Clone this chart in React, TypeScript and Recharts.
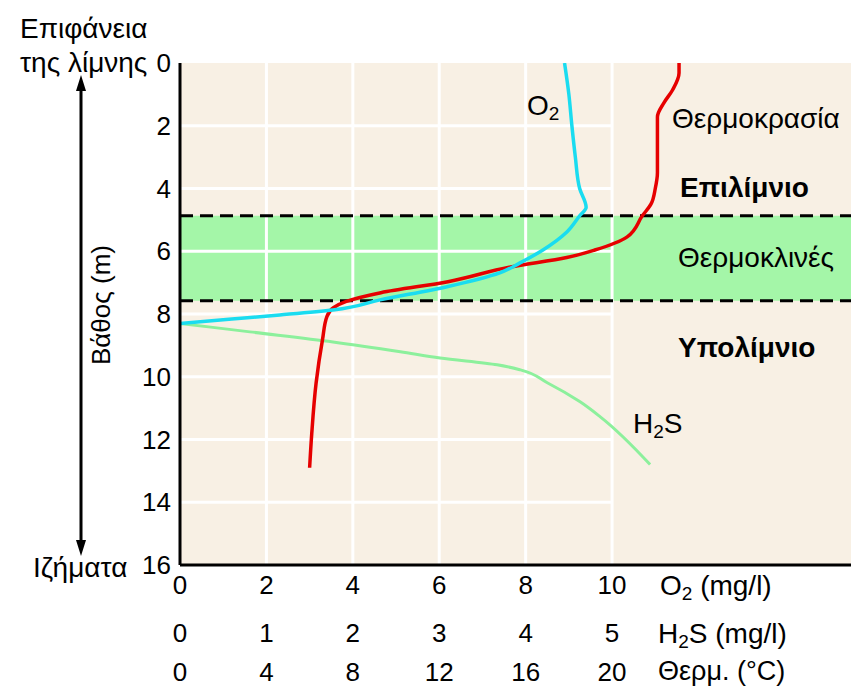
import { LineChart, Line, XAxis, YAxis, ReferenceArea, ReferenceLine } from 'recharts'

// axis ticks
const DEPTH_TICKS = [0, 2, 4, 6, 8, 10, 12, 14, 16]
const O2_TICKS = [0, 2, 4, 6, 8, 10]
const H2S_TICKS = [0, 1, 2, 3, 4, 5]
const TEMP_TICKS = [0, 4, 8, 12, 16, 20]

// O2 (mg/l) against depth (m)
const O2_DEPTH = [0, 1, 2, 3, 4, 4.6, 4.87, 5.38, 5.96, 6.37, 6.69, 7.13, 7.55, 7.87, 8.03, 8.16, 8.3]
const O2_MGL = [8.9, 9.0, 9.07, 9.15, 9.25, 9.4, 9.25, 8.96, 8.4, 7.87, 7.4, 6.18, 4.63, 3.54, 2.31, 1.2, 0]

// temperature (°C) against depth (m)
const TEMP_DEPTH = [0, 0.32, 0.86, 1.27, 1.72, 2.45, 3.5, 4.0, 4.5, 4.87, 5.54, 5.96, 6.2, 6.5, 6.97, 7.32, 7.6, 7.8, 8.08, 8.8, 10.2, 11.8, 12.9]
const TEMP_C = [23.1, 23.1, 22.8, 22.4, 22.1, 22.1, 22.1, 22.0, 21.8, 21.4, 20.7, 19.2, 17.9, 15.3, 12.4, 9.3, 7.7, 7.1, 6.8, 6.6, 6.3, 6.1, 6.0]

// H2S (mg/l) against depth (m)
const H2S_DEPTH = [8.3, 8.57, 8.89, 9.2, 9.4, 9.62, 9.78, 10.19, 10.8, 11.27, 12.8]
const H2S_MGL = [0, 0.81, 1.77, 2.55, 3.01, 3.67, 3.94, 4.25, 4.63, 4.86, 5.44]

// thermocline limits (m)
const THERMOCLINE_TOP = 4.87
const THERMOCLINE_BOTTOM = 7.58

const W = 851
const H = 687
const O2_MAX = 15.53
const FONT = 'Arial, "Liberation Sans", sans-serif'

const zip = (depth: number[], vals: number[]) => depth.map((d, i) => ({ depth: d, v: vals[i] }))

const o2Data = zip(O2_DEPTH, O2_MGL)
const tempData = zip(TEMP_DEPTH, TEMP_C)
const h2sData = zip(H2S_DEPTH, H2S_MGL)

const tick = { fill: '#000', fontSize: 26 }
const GRID = '#ffffff'

export default function App() {
  const lastO2 = O2_TICKS[O2_TICKS.length - 1]
  const lastDepth = DEPTH_TICKS[DEPTH_TICKS.length - 1]
  return (
    <div style={{ position: 'absolute', left: 0, top: 0, width: W, height: H, background: '#fff', fontFamily: FONT }}>
      <LineChart width={W} height={H} layout="vertical" margin={{ top: 63, right: 0, bottom: 0, left: 0 }}>
        <XAxis xAxisId="a_o2" type="number" domain={[0, O2_MAX]} ticks={O2_TICKS} interval={0} allowDataOverflow
          height={48} tickSize={0} tickMargin={11} tick={tick} tickLine={false}
          axisLine={{ stroke: '#000', strokeWidth: 3 }} />
        <XAxis xAxisId="b_h2s" type="number" domain={[0, O2_MAX / 2]} ticks={H2S_TICKS} interval={0} allowDataOverflow
          height={40} tickSize={0} tickMargin={11} tick={tick} tickLine={false} axisLine={false} />
        <XAxis xAxisId="c_temp" type="number" domain={[0, O2_MAX * 2]} ticks={TEMP_TICKS} interval={0} allowDataOverflow
          height={34} tickSize={0} tickMargin={10} tick={tick} tickLine={false} axisLine={false} />
        <YAxis type="number" dataKey="depth" domain={[0, lastDepth]} ticks={DEPTH_TICKS} interval={0} allowDataOverflow
          width={180} tickSize={0} tickMargin={9} tick={tick} tickLine={false}
          axisLine={{ stroke: '#000', strokeWidth: 3 }} />

        <ReferenceArea xAxisId="a_o2" y1={0} y2={lastDepth} fill="#f8f0e4" fillOpacity={1} stroke="none" />
        {O2_TICKS.slice(1).map(t => (
          <ReferenceLine key={'v' + t} xAxisId="a_o2" segment={[{ x: t, y: 0 }, { x: t, y: lastDepth }]} stroke={GRID} strokeWidth={3} />
        ))}
        {DEPTH_TICKS.slice(1, -1).map(d => (
          <ReferenceLine key={'h' + d} xAxisId="a_o2" segment={[{ x: 0, y: d }, { x: lastO2, y: d }]} stroke={GRID} strokeWidth={3} />
        ))}
        <ReferenceArea xAxisId="a_o2" y1={THERMOCLINE_TOP} y2={THERMOCLINE_BOTTOM} fill="#a4f6a8" fillOpacity={1} stroke="none" />
        <ReferenceLine xAxisId="a_o2" y={THERMOCLINE_TOP} stroke="#000" strokeWidth={3} strokeDasharray="13 7" />
        <ReferenceLine xAxisId="a_o2" y={THERMOCLINE_BOTTOM} stroke="#000" strokeWidth={3} strokeDasharray="13 7" />

        <Line xAxisId="b_h2s" data={h2sData} dataKey="v" type="monotone" stroke="#8cf09c" strokeWidth={3} dot={false} isAnimationActive={false} />
        <Line xAxisId="c_temp" data={tempData} dataKey="v" type="monotone" stroke="#e60000" strokeWidth={3.5} dot={false} isAnimationActive={false} />
        <Line xAxisId="a_o2" data={o2Data} dataKey="v" type="monotone" stroke="#1adcf0" strokeWidth={3.5} dot={false} isAnimationActive={false} />
      </LineChart>

      <svg width={W} height={H} style={{ position: 'absolute', left: 0, top: 0, pointerEvents: 'none' }}
        fontFamily={FONT} fontSize={28} fill="#000">
        <text x={20} y={38}>Επιφάνεια</text>
        <text x={20} y={72}>της λίμνης</text>
        <text x={33} y={577}>Ιζήματα</text>
        <line x1={81} y1={86} x2={81} y2={545} stroke="#000" strokeWidth={3} />
        <path d="M81 75 L76 91 L86 91 Z" />
        <path d="M81 556 L76 540 L86 540 Z" />
        <text transform="translate(110 305) rotate(-90)" textAnchor="middle" fontSize={26}>Βάθος (m)</text>

        <text x={527} y={115}>O<tspan fontSize={19} dy={5}>2</tspan></text>
        <text x={672} y={128}>Θερμοκρασία</text>
        <text x={680} y={197} fontWeight="bold">Επιλίμνιο</text>
        <text x={678} y={267}>Θερμοκλινές</text>
        <text x={678} y={357} fontWeight="bold">Υπολίμνιο</text>
        <text x={633} y={433}>H<tspan fontSize={19} dy={5}>2</tspan><tspan dy={-5}>S</tspan></text>

        <text x={660} y={595}>O<tspan fontSize={19} dy={5}>2</tspan><tspan dy={-5}> (mg/l)</tspan></text>
        <text x={658} y={643}>H<tspan fontSize={19} dy={5}>2</tspan><tspan dy={-5}>S (mg/l)</tspan></text>
        <text x={658} y={680} fontSize={27}>Θερμ. (°C)</text>
      </svg>
    </div>
  )
}
